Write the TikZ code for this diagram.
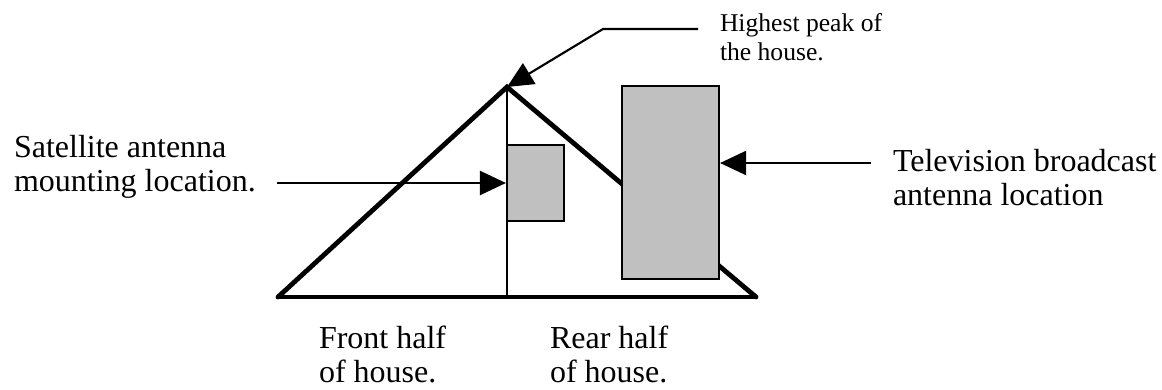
\documentclass[tikz,border=0pt]{standalone}
\usepackage{fontspec}
\setmainfont{Liberation Serif}
\usetikzlibrary{arrows.meta}
\definecolor{antennagray}{RGB}{192,192,192}
\tikzset{every picture/.style={line width=1.5pt}}
\tikzset{
	roof/.style={line width=3.6pt, line cap=round},
	floor/.style={line width=2.5pt},
	wall/.style={line width=1.5pt},
	antennabox/.style={draw=black, fill=antennagray, line width=1.6pt, inner sep=0pt},
	pointer/.style={line width=1.6pt, -{Triangle[length=19.5pt,width=18pt]}},
	bigtext/.style={anchor=base west, inner sep=0pt, align=left, font=\fontsize{24}{25}\selectfont},
	smalltext/.style={bigtext, font=\fontsize{19.2}{21}\selectfont},
}

\begin{document}
\begin{tikzpicture}[x=0.75pt,y=0.75pt,yscale=-1,xscale=1]
	\useasboundingbox (0,0) rectangle (1162,389); %set diagram to the reference size
	
	%Points of the house
	\coordinate (peak) at (507,87);
	\coordinate (frontbase) at (278,297);
	\coordinate (rearbase) at (756,297);
	\coordinate (midbase) at (507,297);
	
	%Straight Lines [floor]
	\draw [floor] (frontbase) -- (rearbase);
	%Straight Lines [middle wall]
	\draw [wall] (peak) -- (midbase);
	%Straight Lines [roof]
	\draw [roof] (frontbase) -- (peak) -- (rearbase);
	
	%Shape: Rectangle [satellite antenna]
	\node [antennabox, minimum width=42.75pt, minimum height=57pt] (satbox) at (535.5,183) {};
	%Shape: Rectangle [television antenna]
	\node [antennabox, minimum width=72.75pt, minimum height=144.75pt] (tvbox) at (670.5,182.5) {};
	
	% Text Node (anchored at the baseline of the last line)
	\node [smalltext] (peaklabel) at (719,60) {Highest peak of\\the house.};
	% Text Node
	\node [bigtext] (satlabel) at (13,191) {Satellite antenna\\mounting location.};
	% Text Node
	\node [bigtext] (tvlabel) at (892,205) {Television broadcast\\antenna location};
	% Text Node
	\node [bigtext] (frontlabel) at (318,382) {Front half\\of house.};
	% Text Node
	\node [bigtext] (rearlabel) at (549,382) {Rear half\\of house.};
	
	%Straight Lines [arrows]
	\coordinate (peakstart) at (698,29);
	\coordinate (peakbend) at (603,29);
	\draw [pointer] (peakstart) -- (peakbend) -- (peak);
	\coordinate (satstart) at (277,183);
	\draw [pointer] (satstart) -- (satbox.west);
	\coordinate (tvstart) at (871,163);
	\draw [pointer] (tvstart) -- (tvstart -| tvbox.east);
	
\end{tikzpicture}
\end{document}
